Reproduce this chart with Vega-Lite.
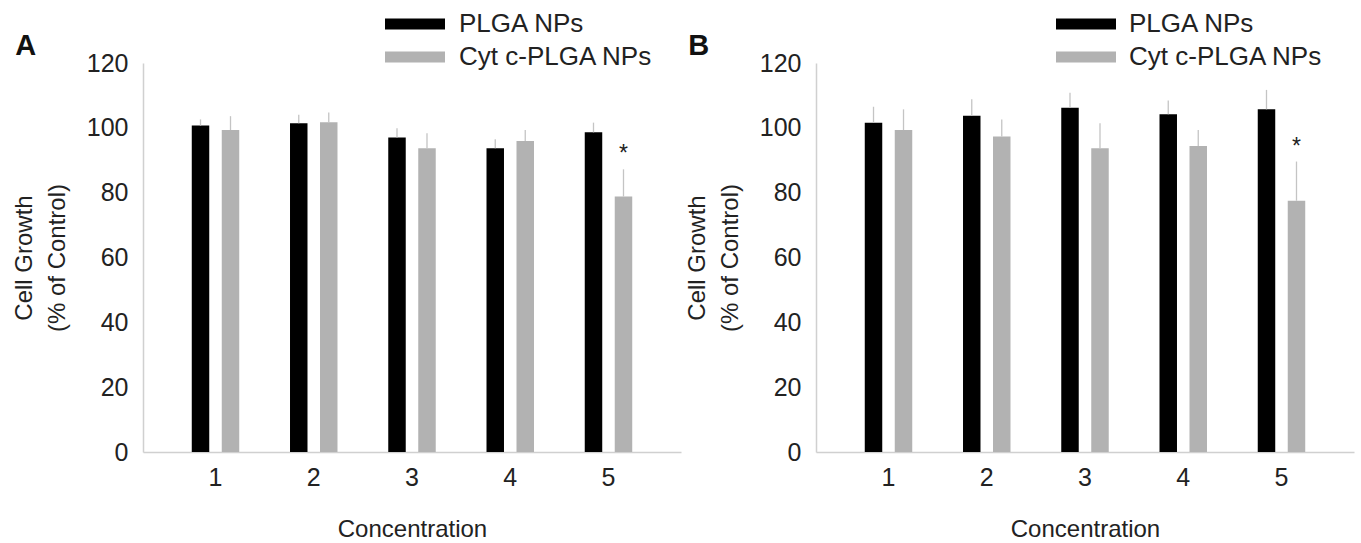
{
  "$schema": "https://vega.github.io/schema/vega-lite/v6.json",
  "background": "white",
  "padding": {"left": 12, "top": 11, "right": 4, "bottom": 2},
  "config": {
    "font": "Liberation Sans",
    "view": {"stroke": null},
    "axis": {
      "labelFont": "Liberation Sans", "titleFont": "Liberation Sans",
      "labelColor": "#222", "titleColor": "#222",
      "labelFontSize": 25, "titleFontSize": 24, "titleFontWeight": "normal",
      "domainColor": "#d0d0d0", "domainWidth": 1.5, "ticks": false, "grid": false
    },
    "title": {"font": "Liberation Sans", "fontSize": 29, "fontWeight": "bold", "color": "#111", "anchor": "start", "frame": "bounds"},
    "concat": {"spacing": 4}
  },
  "datasets": {
    "A": [
      {"conc": "1", "group": "PLGA NPs", "value": 100.7, "upper": 102.6, "sig": ""},
      {"conc": "1", "group": "Cyt c-PLGA NPs", "value": 99.3, "upper": 103.6, "sig": ""},
      {"conc": "2", "group": "PLGA NPs", "value": 101.4, "upper": 104.0, "sig": ""},
      {"conc": "2", "group": "Cyt c-PLGA NPs", "value": 101.7, "upper": 104.7, "sig": ""},
      {"conc": "3", "group": "PLGA NPs", "value": 97.0, "upper": 99.9, "sig": ""},
      {"conc": "3", "group": "Cyt c-PLGA NPs", "value": 93.7, "upper": 98.3, "sig": ""},
      {"conc": "4", "group": "PLGA NPs", "value": 93.7, "upper": 96.5, "sig": ""},
      {"conc": "4", "group": "Cyt c-PLGA NPs", "value": 95.9, "upper": 99.3, "sig": ""},
      {"conc": "5", "group": "PLGA NPs", "value": 98.6, "upper": 101.6, "sig": ""},
      {"conc": "5", "group": "Cyt c-PLGA NPs", "value": 78.8, "upper": 87.2, "sig": "*"}
    ],
    "B": [
      {"conc": "1", "group": "PLGA NPs", "value": 101.6, "upper": 106.5, "sig": ""},
      {"conc": "1", "group": "Cyt c-PLGA NPs", "value": 99.3, "upper": 105.7, "sig": ""},
      {"conc": "2", "group": "PLGA NPs", "value": 103.7, "upper": 108.8, "sig": ""},
      {"conc": "2", "group": "Cyt c-PLGA NPs", "value": 97.3, "upper": 102.6, "sig": ""},
      {"conc": "3", "group": "PLGA NPs", "value": 106.2, "upper": 110.8, "sig": ""},
      {"conc": "3", "group": "Cyt c-PLGA NPs", "value": 93.7, "upper": 101.4, "sig": ""},
      {"conc": "4", "group": "PLGA NPs", "value": 104.2, "upper": 108.4, "sig": ""},
      {"conc": "4", "group": "Cyt c-PLGA NPs", "value": 94.4, "upper": 99.3, "sig": ""},
      {"conc": "5", "group": "PLGA NPs", "value": 105.7, "upper": 111.7, "sig": ""},
      {"conc": "5", "group": "Cyt c-PLGA NPs", "value": 77.5, "upper": 89.6, "sig": "*"}
    ]
  },
  "resolve": {"scale": {"color": "independent"}, "legend": {"color": "independent"}},
  "hconcat": [
    {
      "width": 538, "height": 389,
      "title": {"text": "A", "dy": 54, "dx": 3},
      "data": {"name": "A"},
      "encoding": {
        "x": {"field": "conc", "type": "ordinal", "title": "Concentration",
              "scale": {"paddingInner": 0, "paddingOuter": 0.238},
              "axis": {"labelAngle": 0, "labelPadding": 13, "titlePadding": 27}},
        "xOffset": {"field": "group", "type": "nominal",
                    "scale": {"domain": ["PLGA NPs", "Cyt c-PLGA NPs"], "paddingInner": 0.417, "paddingOuter": 0.846}}
      },
      "layer": [
        {
          "mark": {"type": "bar"},
          "encoding": {
            "y": {"field": "value", "type": "quantitative", "title": ["Cell Growth", "(% of Control)"],
                  "scale": {"domain": [0, 120]},
                  "axis": {"values": [0, 20, 40, 60, 80, 100, 120], "labelPadding": 15, "titlePadding": 17, "titleLineHeight": 33}},
            "color": {"field": "group", "type": "nominal",
                      "scale": {"domain": ["PLGA NPs", "Cyt c-PLGA NPs"], "range": ["#000000", "#b2b2b2"]},
                      "legend": {"orient": "none", "legendX": 259, "legendY": -52, "title": null,
                                 "symbolType": "M-3,-0.55H3V0.55H-3Z", "symbolSize": 400, "symbolStrokeWidth": 0,
                                 "labelFont": "Liberation Sans", "labelFontSize": 26, "labelColor": "#222", "labelLimit": 0,
                                 "labelOffset": 31, "rowPadding": 7, "padding": 0}}
          }
        },
        {
          "mark": {"type": "rule", "color": "#c4c4c4", "strokeWidth": 1.3},
          "encoding": {
            "y": {"field": "value", "type": "quantitative"},
            "y2": {"field": "upper"}
          }
        },
        {
          "mark": {"type": "text", "fontSize": 23, "color": "#222", "baseline": "middle", "dy": -15},
          "encoding": {
            "y": {"field": "upper", "type": "quantitative"},
            "text": {"field": "sig"}
          }
        }
      ]
    },
    {
      "width": 538, "height": 389,
      "title": {"text": "B", "dy": 54, "dx": 3},
      "data": {"name": "B"},
      "encoding": {
        "x": {"field": "conc", "type": "ordinal", "title": "Concentration",
              "scale": {"paddingInner": 0, "paddingOuter": 0.238},
              "axis": {"labelAngle": 0, "labelPadding": 13, "titlePadding": 27}},
        "xOffset": {"field": "group", "type": "nominal",
                    "scale": {"domain": ["PLGA NPs", "Cyt c-PLGA NPs"], "paddingInner": 0.417, "paddingOuter": 0.846}}
      },
      "layer": [
        {
          "mark": {"type": "bar"},
          "encoding": {
            "y": {"field": "value", "type": "quantitative", "title": ["Cell Growth", "(% of Control)"],
                  "scale": {"domain": [0, 120]},
                  "axis": {"values": [0, 20, 40, 60, 80, 100, 120], "labelPadding": 15, "titlePadding": 17, "titleLineHeight": 33}},
            "color": {"field": "group", "type": "nominal",
                      "scale": {"domain": ["PLGA NPs", "Cyt c-PLGA NPs"], "range": ["#000000", "#b2b2b2"]},
                      "legend": {"orient": "none", "legendX": 257, "legendY": -52, "title": null,
                                 "symbolType": "M-3,-0.55H3V0.55H-3Z", "symbolSize": 400, "symbolStrokeWidth": 0,
                                 "labelFont": "Liberation Sans", "labelFontSize": 26, "labelColor": "#222", "labelLimit": 0,
                                 "labelOffset": 30, "rowPadding": 7, "padding": 0}}
          }
        },
        {
          "mark": {"type": "rule", "color": "#c4c4c4", "strokeWidth": 1.3},
          "encoding": {
            "y": {"field": "value", "type": "quantitative"},
            "y2": {"field": "upper"}
          }
        },
        {
          "mark": {"type": "text", "fontSize": 23, "color": "#222", "baseline": "middle", "dy": -15},
          "encoding": {
            "y": {"field": "upper", "type": "quantitative"},
            "text": {"field": "sig"}
          }
        }
      ]
    }
  ]
}
